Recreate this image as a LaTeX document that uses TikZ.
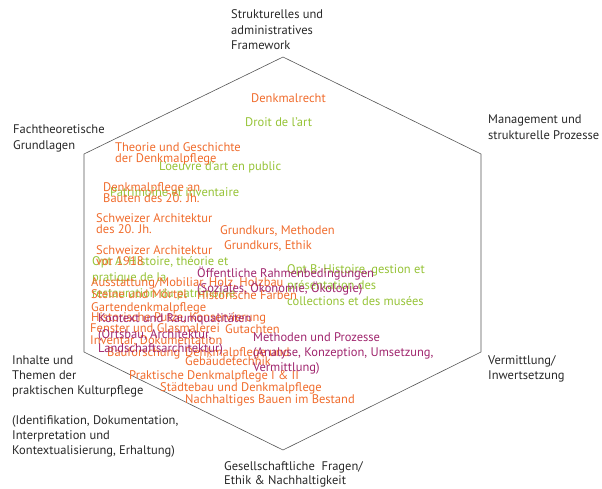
\documentclass[tikz,border=0pt]{standalone}
\usepackage{fontspec}
\setmainfont{PT Sans}
\definecolor{orng}{RGB}{240,108,45}
\definecolor{grn}{RGB}{150,195,55}
\definecolor{purp}{RGB}{160,38,110}
\definecolor{ink}{RGB}{40,40,40}
\definecolor{hexline}{RGB}{85,85,85}
\newcommand\mlines[2]{\vtop{\baselineskip=#1pt\lineskiplimit=-100pt\lineskip=0pt\halign{##\hfil\cr#2\crcr}}}
\begin{document}
\begin{tikzpicture}[x=1pt,y=-1pt,
  lbl/.style={anchor=base west, inner sep=0pt, font=\fontsize{12.5}{15}\selectfont},
  cat/.style={lbl, text=ink},
  og/.style={lbl, text=orng},
  gn/.style={lbl, text=grn},
  pp/.style={lbl, text=purp},
  hex/.style={draw=hexline, line width=0.6pt}]
\useasboundingbox (0,0) rectangle (602,488);
% hexagon
\coordinate (vt) at (283,57);
\coordinate (vur) at (481,154);
\coordinate (vlr) at (481,352);
\coordinate (vb) at (283,450);
\coordinate (vll) at (84,352);
\coordinate (vul) at (84,154);
\draw[hex] (vt) -- (vur) -- (vlr) -- (vb) -- (vll) -- (vul) -- cycle;
% category labels
\node[cat] (top) at (231,18.5) {\mlines{15.5}{Strukturelles und\cr administratives\cr Framework}};
\node[cat] (fach) at (13,133.5) {\mlines{15.5}{Fachtheoretische\cr Grundlagen}};
\node[cat] (mgmt) at (488,123.5) {\mlines{16}{Management und\cr strukturelle Prozesse}};
\node[cat] (inh) at (12,364.5) {\mlines{15}{Inhalte und\cr Themen der\cr praktischen Kulturpflege\cr \cr (Identifikation, Dokumentation,\cr Interpretation und\cr Kontextualisierung, Erhaltung)}};
\node[cat] (verm) at (488,364.5) {\mlines{15}{Vermittlung/\cr Inwertsetzung}};
\node[cat] (ges) at (224,470.5) {\mlines{13.5}{Gesellschaftliche\ \ Fragen/\cr Ethik \& Nachhaltigkeit}};
% green
\node[gn] (droit) at (245,126.5) {Droit de l’art};
\node[gn] (oeuvre) at (159,170.5) {L’oeuvre d’art en public};
\node[gn] (patr) at (110,196.5) {Patrimoine et inventaire};
\node[gn] (opta) at (92,265.5) {\mlines{16}{Opt A: Histoire, théorie et\cr pratique de la\cr restauration du patrimoine}};
\node[gn] (optb) at (287,273.5) {\mlines{16}{Opt B: Histoire, gestion et\cr présentation des\cr collections et des musées}};
% orange
\node[og] (recht) at (251,102.5) {Denkmalrecht};
\node[og] (theo) at (115,151.5) {\mlines{11}{Theorie und Geschichte\cr der Denkmalpflege}};
\node[og] (bauten) at (103,191.5) {\mlines{10.5}{Denkmalpflege an\cr Bauten des 20. Jh.}};
\node[og] (arch20) at (96,222.5) {\mlines{10.5}{Schweizer Architektur\cr des 20. Jh.}};
\node[og] (gkm) at (220,234.5) {Grundkurs, Methoden};
\node[og] (gke) at (224,249.5) {Grundkurs, Ethik};
\node[og] (arch18) at (96,254.5) {\mlines{11}{Schweizer Architektur\cr vor 1918}};
\node[og] (ausst) at (91,286.5) {Ausstattung/Mobiliar, Holz, Holzbau};
\node[og] (steine) at (91,298.5) {Steine und Mörtel};
\node[og] (farben) at (197,299.5) {Historische Farben};
\node[og] (garten) at (91,311.5) {Gartendenkmalpflege};
\node[og] (konserv) at (91,321.5) {Historische Putze, Konservierung};
\node[og] (fenster) at (90,332.5) {Fenster und Glasmalerei};
\node[og] (gut) at (225,333) {Gutachten};
\node[og] (invent) at (90,344) {Inventar, Dokumentation};
\node[og] (baufo) at (107,356.5) {Bauforschung};
\node[og] (gebtech) at (185,356.5) {\mlines{9}{Denkmalpflege und\cr Gebäudetechnik}};
\node[og] (prakt) at (129,379.5) {Praktische Denkmalpflege I \& II};
\node[og] (staedte) at (160,391.5) {Städtebau und Denkmalpflege};
\node[og] (nachh) at (185,403.5) {Nachhaltiges Bauen im Bestand};
% purple
\node[pp] (oeff) at (197,277.5) {\mlines{14.5}{Öffentliche Rahmenbedingungen\cr (Soziales, Ökonomie, Ökologie)}};
\node[pp] (kontext) at (98,322.5) {Kontext und Raumqualitäten};
\node[pp] (ortsbau) at (98,338) {\mlines{14}{(Ortsbau, Architektur,\cr Landschaftsarchitektur)}};
\node[pp] (meth) at (253,341.5) {\mlines{15}{Methoden und Prozesse\cr (Analyse, Konzeption, Umsetzung,\cr Vermittlung)}};
\end{tikzpicture}
\end{document}
